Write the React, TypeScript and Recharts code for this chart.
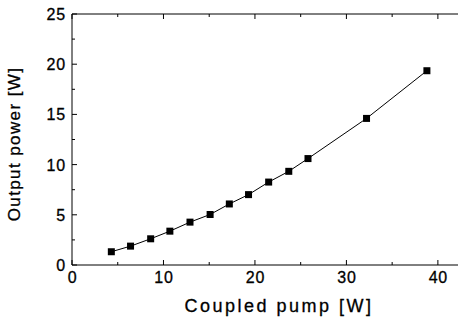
import React from 'react';
import { LineChart, Line, XAxis, YAxis } from 'recharts';

const pump = [4.3, 6.4, 8.6, 10.7, 12.9, 15.1, 17.2, 19.3, 21.5, 23.7, 25.8, 32.2, 38.8];
const power = [1.32, 1.88, 2.61, 3.37, 4.27, 5.03, 6.08, 7.01, 8.26, 9.33, 10.6, 14.6, 19.35];
const xTicks = [0, 5, 10, 15, 20, 25, 30, 35, 40];
const yTicks = [0, 2.5, 5, 7.5, 10, 12.5, 15, 17.5, 20, 22.5, 25];

const data = pump.map((p, i) => ({ pump: p, power: power[i] }));

const font = '"Liberation Sans", Arial, sans-serif';

const BottomTick = (props: any) => {
  const { x, y, payload } = props;
  const major = payload.value % 10 === 0;
  return (
    <g>
      <line x1={x} x2={x} y1={y} y2={y - (major ? 5 : 3)} stroke="#000" />
      {major && (
        <text x={x + 0.5} y={y + 18} textAnchor="middle" fontSize={16} letterSpacing={0.8} fontFamily={font} fill="#000" stroke="#000" strokeWidth={0.3}>
          {payload.value}
        </text>
      )}
    </g>
  );
};

const TopTick = (props: any) => {
  const { x, y, payload } = props;
  const major = payload.value % 10 === 0;
  return <line x1={x} x2={x} y1={y} y2={y + (major ? 5 : 3)} stroke="#000" />;
};

const LeftTick = (props: any) => {
  const { x, y, payload } = props;
  const major = payload.value % 5 === 0;
  return (
    <g>
      <line x1={x} x2={x + (major ? 5 : 3)} y1={y} y2={y} stroke="#000" />
      {major && (
        <text x={x - 6} y={y + 6} textAnchor="end" fontSize={16} letterSpacing={0.8} fontFamily={font} fill="#000" stroke="#000" strokeWidth={0.3}>
          {payload.value}
        </text>
      )}
    </g>
  );
};

const RightTick = (props: any) => {
  const { x, y, payload } = props;
  const major = payload.value % 5 === 0;
  return <line x1={x} x2={x - (major ? 4 : 3)} y1={y} y2={y} stroke="#000" />;
};

const SquareDot = (props: any) => {
  const { cx, cy, index } = props;
  return <rect key={index} x={cx - 3.5} y={cy - 3.5} width={7} height={7} fill="#000" />;
};

export default function App() {
  return (
    <div style={{ position: 'absolute', left: 0, top: 0, width: 459, height: 324, background: '#fff' }}>
      <LineChart width={459} height={324} data={data} margin={{ top: 13, right: 0, bottom: 0, left: 0 }}>
        <XAxis
          xAxisId="b"
          dataKey="pump"
          type="number"
          domain={[0, 42.2]}
          ticks={xTicks}
          height={59}
          tickSize={0}
          tickMargin={0}
          tickLine={false}
          tick={<BottomTick />}
          axisLine={{ stroke: '#000' }}
          interval={0}
        />
        <XAxis
          xAxisId="t"
          orientation="top"
          dataKey="pump"
          type="number"
          domain={[0, 42.2]}
          ticks={xTicks}
          height={1}
          tickSize={0}
          tickMargin={0}
          tickLine={false}
          tick={<TopTick />}
          axisLine={{ stroke: '#000' }}
          interval={0}
        />
        <YAxis
          yAxisId="l"
          type="number"
          domain={[0, 25]}
          ticks={yTicks}
          width={72}
          tickSize={0}
          tickMargin={0}
          tickLine={false}
          tick={<LeftTick />}
          axisLine={{ stroke: '#000' }}
          interval={0}
        />
        <YAxis
          yAxisId="r"
          orientation="right"
          type="number"
          domain={[0, 25]}
          ticks={yTicks}
          width={1}
          tickSize={0}
          tickMargin={0}
          tickLine={false}
          tick={<RightTick />}
          axisLine={false}
          interval={0}
        />
        <Line
          xAxisId="b"
          yAxisId="l"
          dataKey="power"
          type="linear"
          stroke="#000"
          strokeWidth={1}
          dot={<SquareDot />}
          isAnimationActive={false}
        />
      </LineChart>
      <div
        style={{
          position: 'absolute',
          left: 183,
          top: 296,
          width: 192,
          textAlign: 'center',
          fontFamily: font,
          fontSize: 18,
          letterSpacing: 2.5,
          color: '#000',
          WebkitTextStroke: '0.3px #000',
          whiteSpace: 'nowrap',
        }}
      >
        Coupled pump [W]
      </div>
      <div
        style={{
          position: 'absolute',
          left: 15,
          top: 144,
          transform: 'translate(-50%, -50%) rotate(-90deg)',
          whiteSpace: 'nowrap',
          fontFamily: font,
          fontSize: 17,
          letterSpacing: 1.4,
          color: '#000',
          WebkitTextStroke: '0.3px #000',
        }}
      >
        Output power [W]
      </div>
    </div>
  );
}
